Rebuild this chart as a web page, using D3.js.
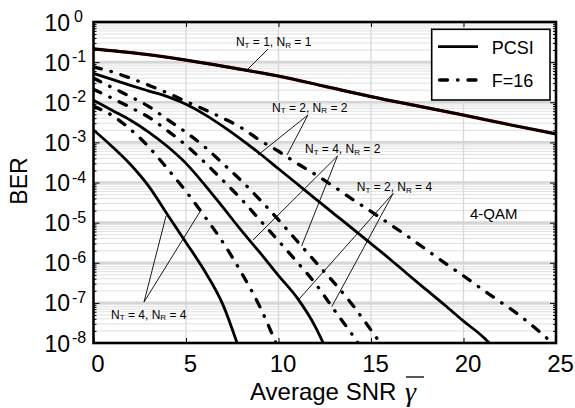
<!DOCTYPE html>
<html><head><meta charset="utf-8">
<script src="https://cdn.jsdelivr.net/npm/d3@7"></script>
<style>body{margin:0;background:#fff} svg{display:block} text{font-family:"Liberation Sans",Arial,Helvetica,sans-serif;fill:#000}</style>
</head><body><svg id="c" width="575" height="408"></svg>
<script>
// ---- data ----
const xTicks = [0,5,10,15,20,25];
const yExps = [0,-1,-2,-3,-4,-5,-6,-7,-8];

// NT=1, NR=1 (PCSI and F=16 coincide)
const snr11 = [0,2.5,5,7.5,10,12.5,15,17.5,20,22.5,25];
const ber11 = [0.214,0.162,0.112,7.2e-2,4.5e-2,2.5e-2,1.38e-2,8.1e-3,4.8e-3,2.75e-3,1.62e-3];
// NT=2, NR=2, F=16
const snr22F = [0,1,2,3,4,5,6,7,8,9,10,11,12,13,14,15,16,17,18,19,20,21,22,23,24,24.8];
const ber22F = [7.6e-2,5.75e-2,3.98e-2,2.63e-2,1.70e-2,1.05e-2,6.6e-3,4.0e-3,2.3e-3,1.12e-3,6.0e-4,3.0e-4,1.58e-4,7.9e-5,3.8e-5,1.9e-5,9.3e-6,4.5e-6,2.1e-6,9.8e-7,4.7e-7,2.2e-7,1.05e-7,5.0e-8,2.1e-8,1e-8];
// NT=2, NR=2, PCSI
const snr22P = [0,1,2,3,4,5,6,7,8,9,10,11,12,13,14,15,16,17,18,19,20,21,21.4];
const ber22P = [5.25e-2,3.7e-2,2.63e-2,1.9e-2,1.38e-2,8.9e-3,5.0e-3,2.5e-3,1.17e-3,5.2e-4,2.2e-4,9.3e-5,3.9e-5,1.66e-5,7.1e-6,3.0e-6,1.26e-6,5.1e-7,2.1e-7,8.7e-8,3.5e-8,1.5e-8,1e-8];
// NT=4, NR=2, F=16
const snr42F = [0,1,2,3,4,5,6,7,8,9,10,11,12,13,14,15,15.5];
const ber42F = [4.0e-2,2.34e-2,1.38e-2,7.8e-3,3.7e-3,1.78e-3,7.8e-4,2.95e-4,1.1e-4,3.7e-5,1.17e-5,3.5e-6,1.05e-6,3.2e-7,8.9e-8,2.1e-8,1e-8];
// NT=2, NR=4, F=16
const snr24F = [0,1,2,3,4,5,6,7,8,9,10,11,12,13,14,14.3];
const ber24F = [2.1e-2,1.26e-2,7.4e-3,4.2e-3,1.95e-3,8.5e-4,3.2e-4,1.12e-4,3.8e-5,1.15e-5,3.5e-6,1.05e-6,3.0e-7,6.8e-8,1.58e-8,1e-8];
// NT=4,NR=2 and NT=2,NR=4, PCSI (shared)
const snrP8 = [0,1,2,3,4,5,6,7,8,9,10,11,12,12.42];
const berP8 = [1.12e-2,6.3e-3,3.55e-3,1.78e-3,7.9e-4,3.0e-4,8.9e-5,2.4e-5,6.3e-6,1.78e-6,4.8e-7,1.35e-7,2.5e-8,1e-8];
// NT=4, NR=4, F=16
const snr44F = [0,1,2,3,4,5,6,7,8,9,9.86];
const ber44F = [7.9e-3,4.7e-3,2.1e-3,7.6e-4,2.2e-4,6.0e-5,1.45e-5,3.2e-6,5.6e-7,7.9e-8,1e-8];
// NT=4, NR=4, PCSI
const snr44P = [0,1,2,3,4,5,6,7,7.76];
const ber44P = [2.04e-3,7.9e-4,2.8e-4,7.9e-5,1.58e-5,3.2e-6,6.3e-7,8.9e-8,1e-8];

// annotations (data coordinates)
const annNums = [["1","1"],["2","2"],["4","2"],["2","4"],["4","4"]];
const annPos  = [[7.70,0.252],[9.65,5.88e-3],[11.43,5.43e-4],[14.23,5.97e-5],[0.95,3.98e-8]];
const annFrom = [[9.43,0.212],[11.59,4.81e-3],[13.19,4.57e-4],[16.2,5.38e-5],[2.73,1.05e-7]];
const annTo   = [[[8.30,0.0637]],[[8.89,4.84e-4],[10.46,4.84e-4]],[[8.62,3.69e-6],[11.25,2.61e-6]],[[11.07,1.18e-7],[12.88,8.03e-8]],[[3.92,1.46e-5],[5.81,2.06e-5]]];
const legendLabels = ["PCSI","F=16"];

// ---- drawing ----
const svg = d3.select("#c");
const L=93.5, R=556, T=22, B=343;
const x = d3.scaleLinear().domain([0,25]).range([L,R]);
const y = d3.scaleLog().domain([1e-8,1]).range([B,T]);

// grid
const minor=[]; for(let e=-8;e<0;e++) for(let m=2;m<=9;m++) minor.push(m*Math.pow(10,e));
const grid = svg.append("g");
grid.selectAll("line.mn").data(minor).join("line").attr("class","mn")
  .attr("x1",L).attr("x2",R).attr("y1",d=>y(d)).attr("y2",d=>y(d))
  .attr("stroke","#e0e0e0").attr("stroke-width",1);
grid.selectAll("line.dc").data(yExps.slice(1,-1).map(e=>Math.pow(10,e))).join("line").attr("class","dc")
  .attr("x1",L).attr("x2",R).attr("y1",d=>y(d)).attr("y2",d=>y(d))
  .attr("stroke","#d6d6d6").attr("stroke-width",2.6);
grid.selectAll("line.v").data(xTicks.slice(1,-1)).join("line").attr("class","v")
  .attr("x1",d=>x(d)).attr("x2",d=>x(d)).attr("y1",T).attr("y2",B)
  .attr("stroke","#d8d8d8").attr("stroke-width",1.3);

svg.append("clipPath").attr("id","clip").append("rect").attr("x",L).attr("y",T).attr("width",R-L).attr("height",B-T);
const curves = svg.append("g").attr("clip-path","url(#clip)");
const line = d3.line().x(d=>x(d[0])).y(d=>y(d[1])).curve(d3.curveMonotoneX);
const zip = (a,b)=>a.map((v,i)=>[v,b[i]]);
const DASH = "8,10,0.5,10";
function solid(s,b){ curves.append("path").attr("d",line(zip(s,b))).attr("fill","none").attr("stroke","#000").attr("stroke-width",2.8); }
function dashdot(s,b){ curves.append("path").attr("d",line(zip(s,b))).attr("fill","none").attr("stroke","#000").attr("stroke-width",3.3).attr("stroke-dasharray",DASH).attr("stroke-linecap","round"); }

curves.append("path").attr("d",line(zip(snr11,ber11))).attr("fill","none").attr("stroke","#8a0000").attr("stroke-width",3.3);
curves.append("path").attr("d",line(zip(snr11,ber11))).attr("fill","none").attr("stroke","#000").attr("stroke-width",2.7);
dashdot(snr22F,ber22F);
solid(snr22P,ber22P);
dashdot(snr42F,ber42F);
dashdot(snr24F,ber24F);
solid(snrP8,berP8);
dashdot(snr44F,ber44F);
solid(snr44P,ber44P);

// annotations
const ann = svg.append("g");
annNums.forEach((n,i)=>{
  annTo[i].forEach(p=>{
    ann.append("line").attr("x1",x(annFrom[i][0])).attr("y1",y(annFrom[i][1]))
      .attr("x2",x(p[0])).attr("y2",y(p[1])).attr("stroke","#000").attr("stroke-width",0.9);
  });
  const t = ann.append("text").attr("x",x(annPos[i][0])).attr("y",y(annPos[i][1])).attr("font-size",12);
  t.append("tspan").text("N");
  t.append("tspan").attr("font-size",8).attr("dy",1.5).text("T");
  t.append("tspan").attr("dy",-1.5).text(" = "+n[0]+", N");
  t.append("tspan").attr("font-size",8).attr("dy",1.5).text("R");
  t.append("tspan").attr("dy",-1.5).text(" = "+n[1]);
});
ann.append("text").attr("x",x(20.35)).attr("y",y(1.23e-5)).attr("font-size",15).text("4-QAM");

// axes
const ax = svg.append("g");
const bottom = ax.append("g").attr("transform",`translate(0,${B})`)
  .call(d3.axisBottom(x).tickValues(xTicks).tickSizeInner(-5).tickSizeOuter(0).tickPadding(12));
bottom.selectAll("text").attr("font-size",24).attr("dx",4).style("font-family",'"Liberation Sans",Arial,sans-serif');
ax.append("g").attr("transform",`translate(0,${T})`)
  .call(d3.axisTop(x).tickValues(xTicks).tickFormat("").tickSizeInner(-5).tickSizeOuter(0));
const decVals = yExps.map(e=>Math.pow(10,e));
ax.append("g").attr("transform",`translate(${L},0)`).call(d3.axisLeft(y).tickValues(decVals).tickFormat("").tickSizeInner(-6).tickSizeOuter(0));
ax.append("g").attr("transform",`translate(${L},0)`).call(d3.axisLeft(y).tickValues(minor).tickFormat("").tickSizeInner(-3).tickSizeOuter(0));
ax.append("g").attr("transform",`translate(${R},0)`).call(d3.axisRight(y).tickValues(decVals).tickFormat("").tickSizeInner(-6).tickSizeOuter(0));
ax.append("g").attr("transform",`translate(${R},0)`).call(d3.axisRight(y).tickValues(minor).tickFormat("").tickSizeInner(-3).tickSizeOuter(0));
ax.selectAll(".domain").remove();
ax.selectAll(".tick line").attr("stroke","#000").attr("stroke-width",1);

// y tick labels 10^e
const yl = svg.append("g");
yExps.forEach(e=>{
  const yy = y(Math.pow(10,e));
  yl.append("text").attr("x",70).attr("y",yy+8.5).attr("text-anchor","end").attr("font-size",23).text("10");
  yl.append("text").attr("x",e===0?74:72).attr("y",yy).attr("font-size",16).text(e===0?"0":String(e));
});

// frame
svg.append("rect").attr("x",L).attr("y",T).attr("width",R-L).attr("height",B-T)
  .attr("fill","none").attr("stroke","#000").attr("stroke-width",2.6);

// axis titles
svg.append("text").attr("transform","translate(27,181) rotate(-90)").attr("text-anchor","middle").attr("font-size",23).text("BER");
svg.append("text").attr("x",250).attr("y",400).attr("font-size",24).text("Average SNR");
svg.append("text").attr("x",405).attr("y",401).attr("font-size",28).attr("font-style","italic")
  .style("font-family",'"Liberation Serif","Times New Roman",serif').text("γ");
svg.append("line").attr("x1",406).attr("x2",424).attr("y1",377).attr("y2",377).attr("stroke","#000").attr("stroke-width",1.3);

// legend
const lg = svg.append("g");
lg.append("rect").attr("x",431.7).attr("y",29.3).attr("width",118.3).attr("height",70.7).attr("fill","#fff").attr("stroke","#000").attr("stroke-width",1.6);
lg.append("line").attr("x1",438).attr("x2",478).attr("y1",46.7).attr("y2",46.7).attr("stroke","#000").attr("stroke-width",2.8);
lg.append("line").attr("x1",439.5).attr("x2",478).attr("y1",80).attr("y2",80).attr("stroke","#000").attr("stroke-width",3.3).attr("stroke-dasharray",DASH).attr("stroke-linecap","round");
lg.selectAll("text").data(legendLabels).join("text").attr("x",491.7).attr("y",(d,i)=>i?87:53.5).attr("font-size",18).text(d=>d);
</script></body></html>
